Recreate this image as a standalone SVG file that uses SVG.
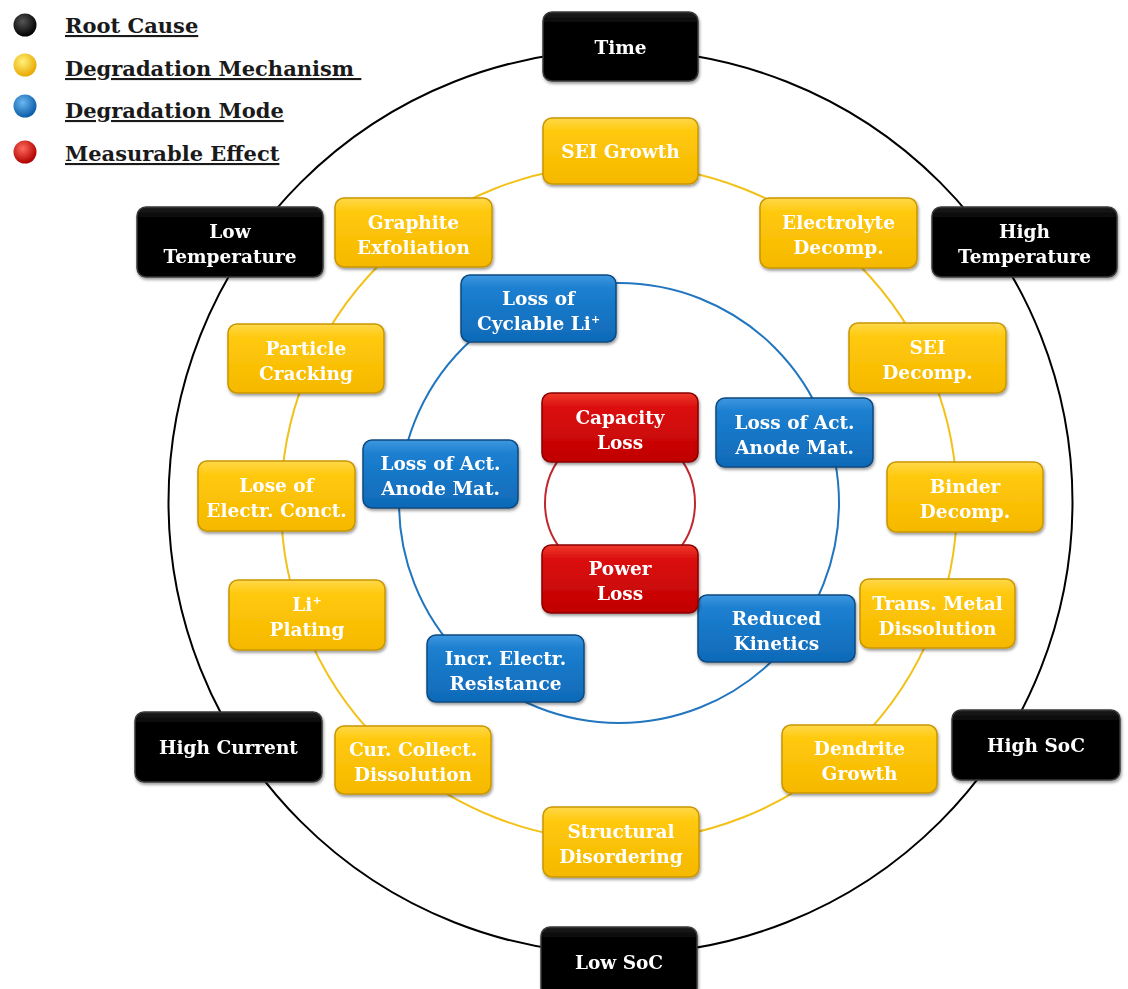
<svg xmlns="http://www.w3.org/2000/svg" width="1128" height="989" viewBox="0 0 1128 989">
<defs>
<style>
.t{font-family:"DejaVu Serif","Liberation Serif",serif;font-weight:bold;font-size:18.5px;fill:#fff;text-anchor:middle}
.lg{font-family:"DejaVu Serif","Liberation Serif",serif;font-weight:bold;font-size:21px;fill:#1a1a1a;text-decoration:underline}
.bk{fill:url(#gBk);stroke:#3a3a3a;stroke-width:1.5}
.yl{fill:url(#gYl);stroke:#c99700;stroke-width:1.5}
.bl{fill:url(#gBl);stroke:#0b4a80;stroke-width:1.5}
.rd{fill:url(#gRd);stroke:#8a0000;stroke-width:1.5}
.box{filter:url(#sh)}
</style>
<filter id="sh" x="-10%" y="-10%" width="125%" height="135%">
<feDropShadow dx="1" dy="2" stdDeviation="1.5" flood-color="#000" flood-opacity="0.4"/>
</filter>
<linearGradient id="gBk" x1="0" y1="0" x2="0" y2="1"><stop offset="0" stop-color="#1e1e1e"/><stop offset="0.15" stop-color="#060606"/><stop offset="1" stop-color="#000"/></linearGradient>
<linearGradient id="gYl" x1="0" y1="0" x2="0" y2="1"><stop offset="0" stop-color="#ffd84a"/><stop offset="0.2" stop-color="#ffc90c"/><stop offset="1" stop-color="#f5b800"/></linearGradient>
<linearGradient id="gBl" x1="0" y1="0" x2="0" y2="1"><stop offset="0" stop-color="#3f97e0"/><stop offset="0.2" stop-color="#1c7fd0"/><stop offset="1" stop-color="#0f6ab8"/></linearGradient>
<linearGradient id="gRd" x1="0" y1="0" x2="0" y2="1"><stop offset="0" stop-color="#ef3a2a"/><stop offset="0.2" stop-color="#dc1010"/><stop offset="1" stop-color="#c00000"/></linearGradient>
<radialGradient id="dBk" cx="0.4" cy="0.35" r="0.65"><stop offset="0" stop-color="#555"/><stop offset="1" stop-color="#000"/></radialGradient>
<radialGradient id="dYl" cx="0.4" cy="0.35" r="0.65"><stop offset="0" stop-color="#fff27a"/><stop offset="1" stop-color="#e8a800"/></radialGradient>
<radialGradient id="dBl" cx="0.4" cy="0.35" r="0.65"><stop offset="0" stop-color="#6ab6f0"/><stop offset="1" stop-color="#0b5ca8"/></radialGradient>
<radialGradient id="dRd" cx="0.4" cy="0.35" r="0.65"><stop offset="0" stop-color="#ff6a5a"/><stop offset="1" stop-color="#b00000"/></radialGradient>
</defs>
<rect width="1128" height="989" fill="#fff"/>

<g id="legend">
<circle cx="25" cy="25" r="11.5" fill="url(#dBk)"/>
<circle cx="25" cy="65" r="11.5" fill="url(#dYl)"/>
<circle cx="25" cy="106" r="11.5" fill="url(#dBl)"/>
<circle cx="25" cy="152" r="11.5" fill="url(#dRd)"/>
<text class="lg" x="65" y="33">Root Cause</text>
<text class="lg" x="65" y="76" xml:space="preserve">Degradation Mechanism </text>
<text class="lg" x="65" y="118">Degradation Mode</text>
<text class="lg" x="65" y="161">Measurable Effect</text>
</g>

<g id="connectors" fill="none">
<circle cx="620.5" cy="502" r="452" stroke="#000" stroke-width="2"/>
<circle cx="619" cy="503" r="338" stroke="#f2c21b" stroke-width="2"/>
<circle cx="619" cy="503" r="220" stroke="#2176bf" stroke-width="2"/>
<circle cx="620" cy="503" r="75" stroke="#c0282e" stroke-width="2"/>
</g>

<g id="node-time" class="box"><rect class="bk" x="543" y="12" width="155" height="69" rx="9"/><text class="t" x="620.5" y="53.5">Time</text></g>
<g id="node-low-temperature" class="box"><rect class="bk" x="137" y="207" width="186" height="70" rx="9"/><text class="t" x="230" y="238">Low</text><text class="t" x="230" y="263">Temperature</text></g>
<g id="node-high-temperature" class="box"><rect class="bk" x="932" y="207" width="185" height="70" rx="9"/><text class="t" x="1024.5" y="238">High</text><text class="t" x="1024.5" y="263">Temperature</text></g>
<g id="node-high-current" class="box"><rect class="bk" x="135" y="712" width="187" height="70" rx="9"/><text class="t" x="228.5" y="754">High Current</text></g>
<g id="node-high-soc" class="box"><rect class="bk" x="952" y="710" width="168" height="70" rx="9"/><text class="t" x="1036" y="752">High SoC</text></g>
<g id="node-low-soc" class="box"><rect class="bk" x="541" y="927" width="156" height="70" rx="9"/><text class="t" x="619" y="969">Low SoC</text></g>

<g id="node-sei-growth" class="box"><rect class="yl" x="543" y="118" width="155" height="66" rx="9"/><text class="t" x="620.5" y="158">SEI Growth</text></g>
<g id="node-graphite-exfoliation" class="box"><rect class="yl" x="335" y="198" width="157" height="69" rx="9"/><text class="t" x="413.5" y="228.5">Graphite</text><text class="t" x="413.5" y="253.5">Exfoliation</text></g>
<g id="node-electrolyte-decomp" class="box"><rect class="yl" x="760" y="198" width="157" height="70" rx="9"/><text class="t" x="838.5" y="229">Electrolyte</text><text class="t" x="838.5" y="254">Decomp.</text></g>
<g id="node-particle-cracking" class="box"><rect class="yl" x="228" y="324" width="156" height="69" rx="9"/><text class="t" x="306" y="354.5">Particle</text><text class="t" x="306" y="379.5">Cracking</text></g>
<g id="node-sei-decomp" class="box"><rect class="yl" x="849" y="323" width="157" height="70" rx="9"/><text class="t" x="927.5" y="354">SEI</text><text class="t" x="927.5" y="379">Decomp.</text></g>
<g id="node-lose-electr-conct" class="box"><rect class="yl" x="198" y="461" width="157" height="70" rx="9"/><text class="t" x="276.5" y="492">Lose of</text><text class="t" x="276.5" y="517">Electr. Conct.</text></g>
<g id="node-binder-decomp" class="box"><rect class="yl" x="887" y="462" width="156" height="70" rx="9"/><text class="t" x="965" y="493">Binder</text><text class="t" x="965" y="518">Decomp.</text></g>
<g id="node-li-plating" class="box"><rect class="yl" x="229" y="580" width="156" height="70" rx="9"/><text class="t" x="307" y="611">Li<tspan font-size="11" dy="-7">+</tspan></text><text class="t" x="307" y="636">Plating</text></g>
<g id="node-trans-metal-dissolution" class="box"><rect class="yl" x="860" y="579" width="155" height="69" rx="9"/><text class="t" x="937.5" y="609.5">Trans. Metal</text><text class="t" x="937.5" y="634.5">Dissolution</text></g>
<g id="node-cur-collect-dissolution" class="box"><rect class="yl" x="335" y="726" width="156" height="68" rx="9"/><text class="t" x="413" y="756">Cur. Collect.</text><text class="t" x="413" y="781">Dissolution</text></g>
<g id="node-dendrite-growth" class="box"><rect class="yl" x="782" y="725" width="155" height="68" rx="9"/><text class="t" x="859.5" y="755">Dendrite</text><text class="t" x="859.5" y="780">Growth</text></g>
<g id="node-structural-disordering" class="box"><rect class="yl" x="543" y="807" width="156" height="70" rx="9"/><text class="t" x="621" y="838">Structural</text><text class="t" x="621" y="863">Disordering</text></g>

<g id="node-loss-cyclable-li" class="box"><rect class="bl" x="461" y="275" width="155" height="67" rx="9"/><text class="t" x="538.5" y="304.5">Loss of</text><text class="t" x="538.5" y="329.5">Cyclable Li<tspan font-size="11" dy="-7">+</tspan></text></g>
<g id="node-loss-act-anode-left" class="box"><rect class="bl" x="363" y="440" width="155" height="68" rx="9"/><text class="t" x="440.5" y="470">Loss of Act.</text><text class="t" x="440.5" y="495">Anode Mat.</text></g>
<g id="node-loss-act-anode-right" class="box"><rect class="bl" x="716" y="398" width="157" height="69" rx="9"/><text class="t" x="794.5" y="428.5">Loss of Act.</text><text class="t" x="794.5" y="453.5">Anode Mat.</text></g>
<g id="node-incr-electr-resistance" class="box"><rect class="bl" x="427" y="635" width="157" height="67" rx="9"/><text class="t" x="505.5" y="664.5">Incr. Electr.</text><text class="t" x="505.5" y="689.5">Resistance</text></g>
<g id="node-reduced-kinetics" class="box"><rect class="bl" x="698" y="595" width="157" height="67" rx="9"/><text class="t" x="776.5" y="624.5">Reduced</text><text class="t" x="776.5" y="649.5">Kinetics</text></g>

<g id="node-capacity-loss" class="box"><rect class="rd" x="542" y="393" width="156" height="69" rx="9"/><text class="t" x="620" y="423.5">Capacity</text><text class="t" x="620" y="448.5">Loss</text></g>
<g id="node-power-loss" class="box"><rect class="rd" x="542" y="545" width="156" height="68" rx="9"/><text class="t" x="620" y="575">Power</text><text class="t" x="620" y="600">Loss</text></g>
</svg>
